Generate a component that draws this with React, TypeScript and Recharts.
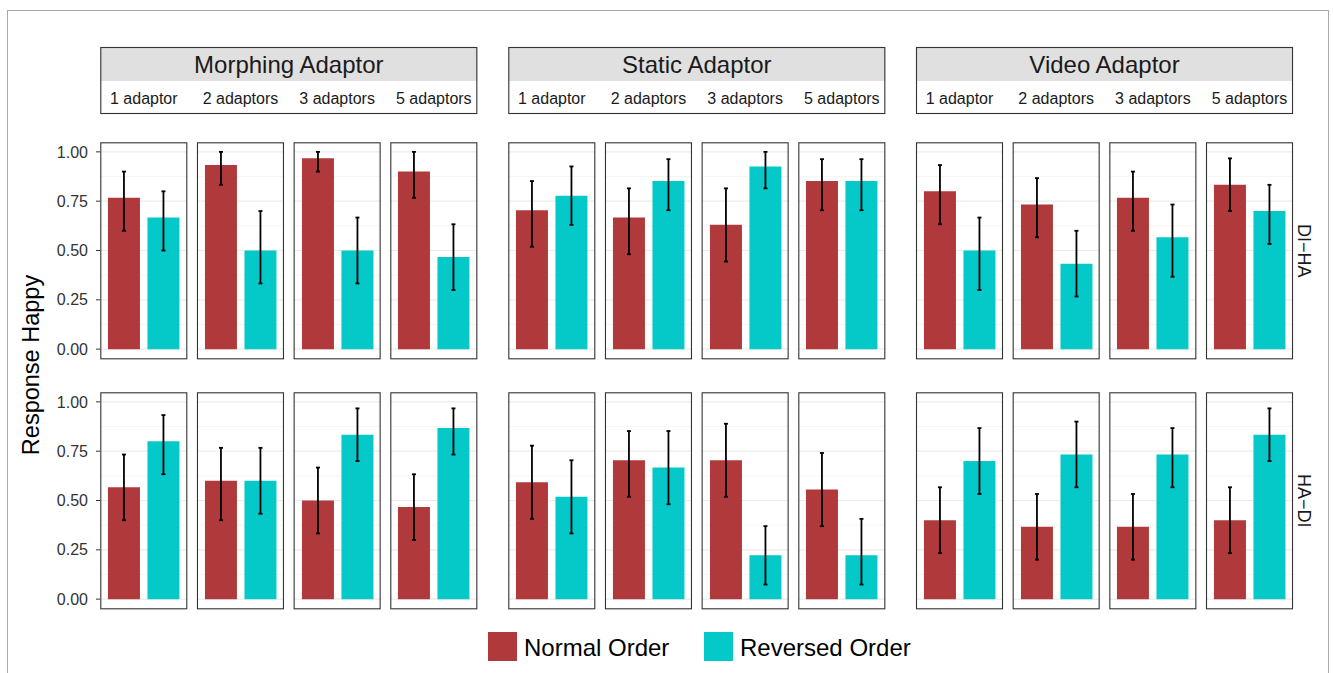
import React from 'react';
import { BarChart, Bar, XAxis, YAxis, CartesianGrid, ErrorBar, Cell } from 'recharts';

// ---------- labels ----------
const conditionLabels = ['Morphing Adaptor', 'Static Adaptor', 'Video Adaptor'];
const adaptorLabels = ['1 adaptor', '2 adaptors', '3 adaptors', '5 adaptors'];
const rowLabels = ['DI\u2212HA', 'HA\u2212DI'];
const seriesLabels = ['Normal Order', 'Reversed Order'];
const yTicks = [0, 0.25, 0.5, 0.75, 1];
const minorGrid = [0.125, 0.375, 0.625, 0.875];
const yTitle = 'Response Happy';

// ---------- values (12 per array: Morphing 1,2,3,5 | Static 1,2,3,5 | Video 1,2,3,5) ----------
// Row DI-HA
const diHaNormalMean = [0.767, 0.933, 0.967, 0.9, 0.704, 0.667, 0.63, 0.852, 0.8, 0.733, 0.767, 0.833];
const diHaNormalLow = [0.6, 0.833, 0.9, 0.767, 0.519, 0.481, 0.444, 0.704, 0.633, 0.567, 0.6, 0.7];
const diHaNormalHigh = [0.9, 1.0, 1.0, 1.0, 0.852, 0.815, 0.815, 0.963, 0.933, 0.867, 0.9, 0.967];
const diHaReversedMean = [0.667, 0.5, 0.5, 0.467, 0.778, 0.852, 0.926, 0.852, 0.5, 0.433, 0.567, 0.7];
const diHaReversedLow = [0.5, 0.333, 0.333, 0.3, 0.63, 0.704, 0.815, 0.704, 0.3, 0.267, 0.367, 0.533];
const diHaReversedHigh = [0.8, 0.7, 0.667, 0.633, 0.926, 0.963, 1.0, 0.963, 0.667, 0.6, 0.733, 0.833];
// Row HA-DI
const haDiNormalMean = [0.567, 0.6, 0.5, 0.467, 0.593, 0.704, 0.704, 0.556, 0.4, 0.367, 0.367, 0.4];
const haDiNormalLow = [0.4, 0.4, 0.333, 0.3, 0.407, 0.519, 0.519, 0.37, 0.233, 0.2, 0.2, 0.233];
const haDiNormalHigh = [0.733, 0.767, 0.667, 0.633, 0.778, 0.852, 0.889, 0.741, 0.567, 0.533, 0.533, 0.567];
const haDiReversedMean = [0.8, 0.6, 0.833, 0.867, 0.519, 0.667, 0.222, 0.222, 0.7, 0.733, 0.733, 0.833];
const haDiReversedLow = [0.633, 0.433, 0.7, 0.733, 0.333, 0.481, 0.074, 0.074, 0.533, 0.567, 0.567, 0.7];
const haDiReversedHigh = [0.933, 0.767, 0.967, 0.967, 0.704, 0.852, 0.37, 0.407, 0.867, 0.9, 0.867, 0.967];

// ---------- styling ----------
const seriesColors = ['#B0393B', '#04C9C8'];
const FONT = '"Liberation Sans", Arial, Helvetica, sans-serif';
const PW = 87;
const PH = 217;
const STEP = 96.67;
const groupX = [100.3, 508.3, 916];
const rowY = [142.3, 392.3];
const AXIS_W = 60;

type Row = { order: string; mean: number; err: [number, number] };

function buildPanel(
  nm: number[], nl: number[], nh: number[],
  rm: number[], rl: number[], rh: number[], i: number
): Row[] {
  return [
    { order: seriesLabels[0], mean: nm[i], err: [nm[i] - nl[i], nh[i] - nm[i]] },
    { order: seriesLabels[1], mean: rm[i], err: [rm[i] - rl[i], rh[i] - rm[i]] },
  ];
}

const rows: Row[][][] = [
  Array.from({ length: 12 }, (_, i) =>
    buildPanel(diHaNormalMean, diHaNormalLow, diHaNormalHigh, diHaReversedMean, diHaReversedLow, diHaReversedHigh, i)),
  Array.from({ length: 12 }, (_, i) =>
    buildPanel(haDiNormalMean, haDiNormalLow, haDiNormalHigh, haDiReversedMean, haDiReversedLow, haDiReversedHigh, i)),
];

function Panel({ data, showAxis }: { data: Row[]; showAxis: boolean }) {
  const aw = showAxis ? AXIS_W : 0;
  return (
    <BarChart
      width={PW + aw}
      height={PH}
      data={data}
      margin={{ top: 0, right: 0, bottom: 0, left: 0 }}
      barCategoryGap="10%"
    >
      <CartesianGrid horizontalValues={minorGrid} vertical={false} stroke="#f2f2f2" strokeWidth={0.7} />
      <CartesianGrid horizontalValues={yTicks} vertical={false} stroke="#ebebeb" strokeWidth={1.2} />
      <XAxis dataKey="order" hide padding={{ left: 4, right: 4 }} />
      <YAxis
        type="number"
        domain={[-0.05, 1.05]}
        ticks={yTicks}
        allowDataOverflow
        hide={!showAxis}
        width={aw}
        axisLine={false}
        tickSize={4}
        tickMargin={8}
        tickLine={{ stroke: '#333' }}
        tick={{ fontSize: 16, fill: '#333', fontFamily: FONT }}
        tickFormatter={(v: number) => v.toFixed(2)}
      />
      <Bar dataKey="mean" isAnimationActive={false}>
        {data.map((_, i) => (
          <Cell key={i} fill={seriesColors[i]} />
        ))}
        <ErrorBar dataKey="err" width={2} stroke="#000" strokeWidth={1.8} direction="y" isAnimationActive={false} />
      </Bar>
    </BarChart>
  );
}

export default function App() {
  const panels: React.ReactNode[] = [];
  const borders: React.ReactNode[] = [];
  rows.forEach((row, r) => {
    row.forEach((data, idx) => {
      const g = Math.floor(idx / 4);
      const k = idx % 4;
      const x = groupX[g] + k * STEP;
      const showAxis = idx === 0;
      const aw = showAxis ? AXIS_W : 0;
      panels.push(
        <div key={`p${r}-${idx}`} style={{ position: 'absolute', left: x - aw, top: rowY[r] }}>
          <Panel data={data} showAxis={showAxis} />
        </div>
      );
      borders.push(
        <rect key={`b${r}-${idx}`} x={x + 0.5} y={rowY[r] + 0.5} width={PW - 1} height={PH - 1}
          fill="none" stroke="#333" strokeWidth={1.1} />
      );
    });
  });

  const groupW = 3 * STEP + PW;

  return (
    <div style={{ position: 'absolute', left: 0, top: 0, width: 1333, height: 673, background: '#fff', overflow: 'hidden', fontFamily: FONT }}>
      {/* outer frame */}
      <div style={{ position: 'absolute', left: 7, top: 10, width: 1320, height: 663, borderLeft: '1px solid #aaa', borderTop: '1px solid #aaa', borderRight: '1px solid #aaa' }} />
      {panels}
      <svg width={1333} height={673} style={{ position: 'absolute', left: 0, top: 0, pointerEvents: 'none' }} fontFamily={FONT}>
        {borders}
        {conditionLabels.map((label, g) => (
          <g key={label}>
            <rect x={groupX[g]} y={47} width={groupW} height={34} fill="#e0e0e0" />
            <rect x={groupX[g] + 0.5} y={47.5} width={groupW - 1} height={66} fill="none" stroke="#333" strokeWidth={1.1} />
            <text x={groupX[g] + groupW / 2} y={72.5} textAnchor="middle" fontSize={24} fill="#1a1a1a">{label}</text>
            {adaptorLabels.map((a, k) => (
              <text key={a} x={groupX[g] + k * STEP + PW / 2} y={103.5} textAnchor="middle" fontSize={16} fill="#1a1a1a">{a}</text>
            ))}
          </g>
        ))}
        <text x={39} y={365} transform="rotate(-90 39 365)" textAnchor="middle" fontSize={23.5} fill="#000">{yTitle}</text>
        {rowLabels.map((label, r) => (
          <text key={label} x={1298} y={rowY[r] + PH / 2} transform={`rotate(90 1298 ${rowY[r] + PH / 2})`}
            textAnchor="middle" fontSize={18} fill="#1a1a1a">{label}</text>
        ))}
        {/* legend */}
        <rect x={488} y={632} width={29} height={29} fill={seriesColors[0]} />
        <text x={524} y={655.5} fontSize={24} fill="#000">{seriesLabels[0]}</text>
        <rect x={704} y={632} width={29} height={29} fill={seriesColors[1]} />
        <text x={740} y={655.5} fontSize={24} fill="#000">{seriesLabels[1]}</text>
      </svg>
    </div>
  );
}
